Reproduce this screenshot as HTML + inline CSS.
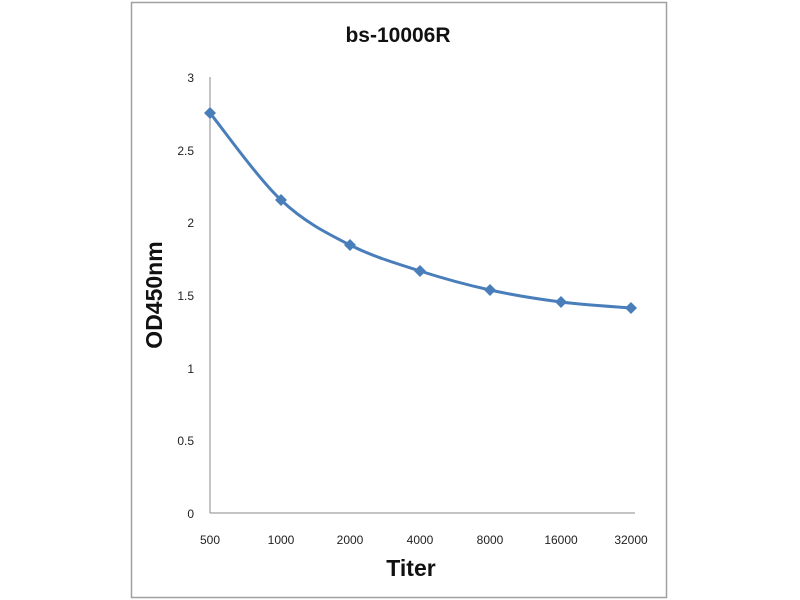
<!DOCTYPE html>
<html><head><meta charset="utf-8"><style>
body{margin:0;background:#fff;}
svg{display:block;font-family:"Liberation Sans",sans-serif;}
</style></head><body>
<svg width="800" height="600" viewBox="0 0 800 600">
<rect width="800" height="600" fill="#fff"/>
<rect x="131.5" y="2.5" width="535" height="595" fill="#fff" stroke="#a0a0a0" stroke-width="1.5"/>
<text x="398" y="42" font-size="21" font-weight="bold" text-anchor="middle" fill="#111">bs-10006R</text>
<line x1="210" y1="77" x2="210" y2="513" stroke="#888" stroke-width="1"/>
<line x1="210" y1="513" x2="635" y2="513" stroke="#888" stroke-width="1"/>
<g font-size="12" fill="#222" text-anchor="end">
<text x="194" y="82">3</text>
<text x="194" y="155">2.5</text>
<text x="194" y="227">2</text>
<text x="194" y="300">1.5</text>
<text x="194" y="373">1</text>
<text x="194" y="445">0.5</text>
<text x="194" y="518">0</text>
</g>
<g font-size="12" fill="#222" text-anchor="middle">
<text x="210" y="544">500</text>
<text x="281" y="544">1000</text>
<text x="350" y="544">2000</text>
<text x="420" y="544">4000</text>
<text x="490" y="544">8000</text>
<text x="561" y="544">16000</text>
<text x="631" y="544">32000</text>
</g>
<text x="411" y="576" font-size="23" font-weight="bold" text-anchor="middle" fill="#111">Titer</text>
<text transform="translate(162,295) rotate(-90)" font-size="23" font-weight="bold" text-anchor="middle" fill="#111">OD450nm</text>
<path d="M210,113 C221.8,127.5 257.7,178 281,200 C304.3,222 326.8,233.2 350,245 C373.2,256.8 396.7,263.5 420,271 C443.3,278.5 466.5,284.8 490,290 C513.5,295.2 537.5,299 561,302 C584.5,305 619.3,307 631,308" fill="none" stroke="#4a7ebb" stroke-width="3"/>
<g fill="#4a7ebb">
<path d="M210,107 l6,6 l-6,6 l-6,-6z"/>
<path d="M281,194 l6,6 l-6,6 l-6,-6z"/>
<path d="M350,239 l6,6 l-6,6 l-6,-6z"/>
<path d="M420,265 l6,6 l-6,6 l-6,-6z"/>
<path d="M490,284 l6,6 l-6,6 l-6,-6z"/>
<path d="M561,296 l6,6 l-6,6 l-6,-6z"/>
<path d="M631,302 l6,6 l-6,6 l-6,-6z"/>
</g>
</svg>
</body></html>
